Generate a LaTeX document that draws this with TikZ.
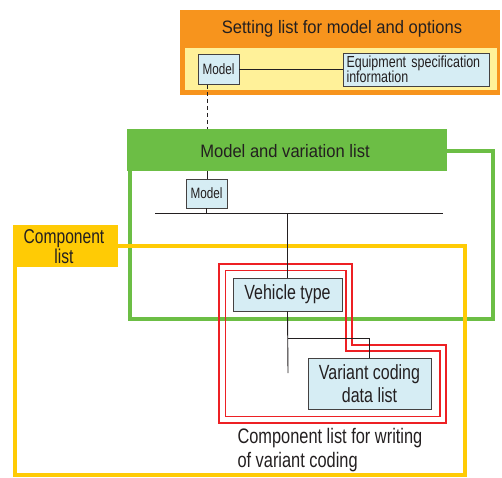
\documentclass[tikz,border=0pt]{standalone}
\usepackage{fontspec}
\setmainfont{Liberation Sans}
\newfontfamily\titlefont[FakeStretch=0.92]{Liberation Sans}
\newfontfamily\boxfont[FakeStretch=0.78]{Liberation Sans}
\definecolor{setorange}{RGB}{247,148,29}
\definecolor{setband}{RGB}{255,241,153}
\definecolor{vargreen}{RGB}{108,190,69}
\definecolor{compyellow}{RGB}{255,203,5}
\definecolor{codered}{RGB}{237,32,36}
\definecolor{boxblue}{RGB}{214,237,244}
\definecolor{ink}{RGB}{35,31,32}
\tikzset{
  itembox/.style={draw=ink!85, line width=0.9pt, fill=boxblue, inner sep=0pt, text=ink},
  link/.style={draw=ink, line width=0.9pt},
  heading/.style={text=ink, font=\titlefont\fontsize{18}{21}\selectfont},
  redline/.style={draw=codered, line width=1.6pt},
}
\begin{document}
\begin{tikzpicture}[x=1pt,y=-1pt]
\useasboundingbox (0,0) rectangle (502,477);

% setting list for model and options
\path[fill=setorange] (180,10) rectangle (500,95);
\path[fill=setband] (185,48) rectangle (497,90);
\node[heading] (settitle) at (342,29) {Setting list for model and options};

% model and variation list (green frame with header)
\draw[vargreen, line width=4.5pt] (130,151) rectangle (493,319);
\path[fill=vargreen] (127,129) rectangle (447,171);
\coordinate (ghtop) at (207,129);
\coordinate (ghbot) at (207,171);
\node[heading] (vartitle) at (285,151) {Model and variation list};

% component list (yellow frame with header)
\draw[compyellow, line width=4pt] (15,246) rectangle (465,475);
\path[fill=compyellow] (13,225) rectangle (118,267);
\node[text=ink, align=center, font=\boxfont\fontsize{20}{20}\selectfont] (comptitle) at (64,246.5) {Component\\list};

% component list for writing of variant coding (double red outline)
\draw[redline] (219,264) -- (352,264) -- (352,345) -- (446,345) -- (446,423) -- (219,423) -- cycle;
\draw[redline] (225.5,270.5) -- (346,270.5) -- (346,351) -- (440,351) -- (440,416.5) -- (225.5,416.5) -- cycle;
\node[anchor=base west, align=left, text=ink, font=\boxfont\fontsize{21}{23.5}\selectfont] (codenote) at (234,467) {Component list for writing\\of variant coding};

% boxes
\node[itembox, minimum width=41pt, minimum height=30pt, font=\boxfont\fontsize{15}{17}\selectfont] (model1) at (218.5,69.5) {Model};
\node[itembox, minimum width=146pt, minimum height=33pt, text width=139pt, align=left, font=\boxfont\fontsize{16}{15}\selectfont] (equip) at (416,69.5) {Equipment specification\\information};
\node[itembox, minimum width=41pt, minimum height=29pt, font=\boxfont\fontsize{15}{17}\selectfont] (model2) at (206.5,193.5) {Model};
\node[itembox, minimum width=109pt, minimum height=33pt, font=\boxfont\fontsize{20.5}{22}\selectfont] (vehicle) at (287.5,294.5) {Vehicle type};
\node[itembox, minimum width=123pt, minimum height=51pt, align=center, font=\boxfont\fontsize{20.5}{23}\selectfont] (variant) at (369.5,383.5) {Variant coding\\data list};

% connectors
\coordinate (busL) at (155,213);
\coordinate (busR) at (443,213);
\coordinate (stub) at (288,373);
\coordinate (fork) at (288,338);
\draw[link] (model1) -- (equip);
\draw[link, dashed, dash pattern=on 4pt off 3pt] (model1.south -| ghtop) -- (ghtop);
\draw[link] (ghbot) -- (model2.north -| ghbot);
\draw[link] (busL) -- (busR);
\draw[link] (model2.south) -- (model2.south |- busL);
\draw[link] (vehicle.north |- busL) -- (vehicle.north);
\draw[link] (vehicle.south) -- (stub);
\draw[link] (fork) -- (variant.north |- fork) -- (variant.north);
\end{tikzpicture}
\end{document}
